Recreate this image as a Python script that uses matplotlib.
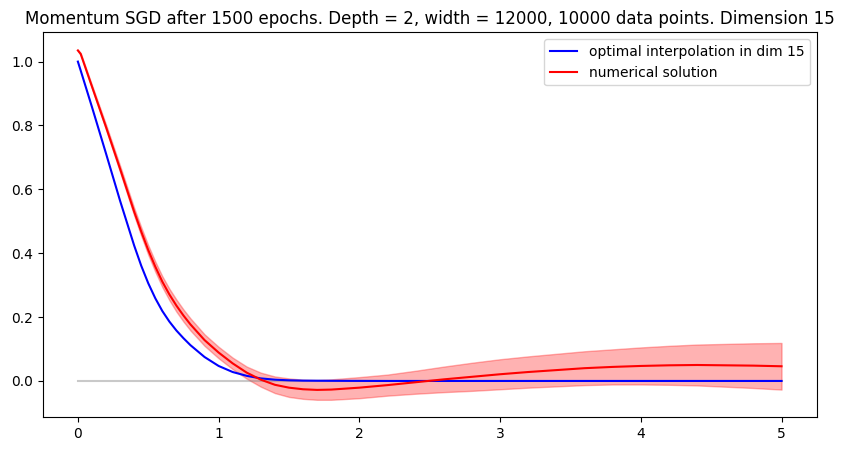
import matplotlib
matplotlib.use("Agg")
import matplotlib.pyplot as plt
import numpy as np

# sample points along t
t = [0.0, 0.02, 0.1, 0.2, 0.3, 0.4, 0.45, 0.5, 0.55, 0.6, 0.65, 0.7, 0.75, 0.8, 0.9,
     1.0, 1.1, 1.2, 1.3, 1.4, 1.5, 1.6, 1.7, 1.8, 2.0,
     2.2, 2.4, 2.6, 2.8, 3.0, 3.2, 3.4, 3.6, 3.8, 4.0,
     4.2, 4.4, 4.6, 4.8, 5.0]

optimal = [1.000, 0.972, 0.858, 0.712, 0.564, 0.424, 0.361, 0.306, 0.259, 0.219, 0.186, 0.158, 0.134, 0.112, 0.075,
           0.047, 0.028, 0.016, 0.008, 0.004, 0.002, 0.001, 0.0007, 0.0005, 0.0002,
           0.0, 0.0, 0.0, 0.0, 0.0, 0.0, 0.0, 0.0, 0.0, 0.0,
           0.0, 0.0, 0.0, 0.0, 0.0]

numerical = [1.035, 1.024, 0.922, 0.795, 0.664, 0.530, 0.468, 0.410, 0.358, 0.311, 0.271, 0.236, 0.205, 0.177, 0.128,
             0.089, 0.055, 0.026, 0.004, -0.012, -0.021, -0.026, -0.028, -0.027, -0.021,
             -0.013, -0.004, 0.005, 0.013, 0.021, 0.028, 0.034, 0.040, 0.044, 0.047,
             0.049, 0.050, 0.049, 0.048, 0.046]

spread = [0.002, 0.003, 0.005, 0.008, 0.010, 0.012, 0.0135, 0.015, 0.016, 0.017, 0.018, 0.019, 0.019, 0.019, 0.018,
          0.018, 0.018, 0.019, 0.022, 0.026, 0.029, 0.030, 0.031, 0.032, 0.033,
          0.033, 0.036, 0.040, 0.044, 0.047, 0.049, 0.051, 0.053, 0.055, 0.058,
          0.061, 0.064, 0.067, 0.070, 0.073]

t = np.array(t)
num = np.array(numerical)
sd = np.array(spread)

fig = plt.figure(figsize=(8.44, 4.51), dpi=100)
ax = fig.add_axes([42.7 / 844, (451 - 417.3) / 451, 774 / 844, 385 / 451])

ax.plot([t[0], t[-1]], [0, 0], color="gray", alpha=0.42)
ax.fill_between(t, num - sd, num + sd, color="red", alpha=0.3)
ax.plot(t, optimal, color="blue", label="optimal interpolation in dim 15")
ax.plot(t, num, color="red", label="numerical solution")

ax.set_title("Momentum SGD after 1500 epochs. Depth = 2, width = 12000, 10000 data points. Dimension 15")
ax.legend(loc="upper right")

fig.savefig("out.png", dpi=100)
